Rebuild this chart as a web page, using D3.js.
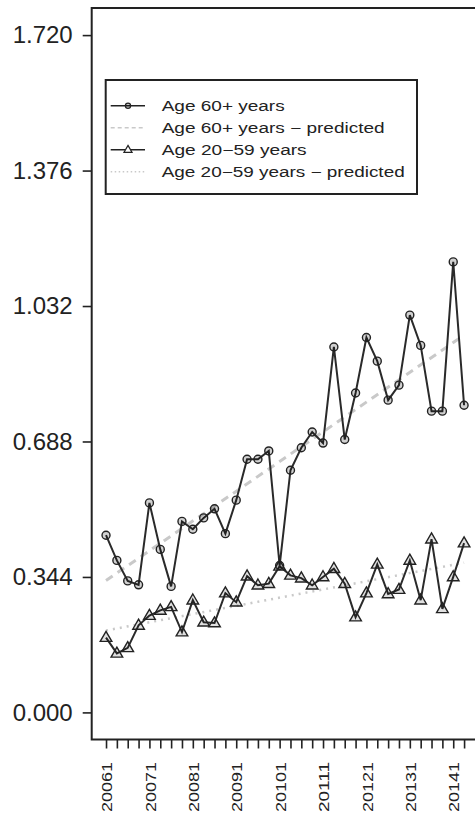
<!DOCTYPE html>
<html>
<head>
<meta charset="utf-8">
<script src="https://cdn.jsdelivr.net/npm/d3@7"></script>
<style>
  html, body { margin: 0; padding: 0; background: #fff; }
  svg { display: block; font-family: "Liberation Sans", Arial, sans-serif; }
</style>
</head>
<body>
<svg id="chart" width="475" height="815"></svg>
<script>
// ---- Data ----
const quarters = ["20061","20062","20063","20064","20071","20072","20073","20074",
  "20081","20082","20083","20084","20091","20092","20093","20094",
  "20101","20102","20103","20104","20111","20112","20113","20114",
  "20121","20122","20123","20124","20131","20132","20133","20134",
  "20141","20142"];
const age60 = [0.450,0.386,0.334,0.324,0.532,0.414,0.320,0.485,0.465,0.494,0.517,0.454,
  0.539,0.643,0.643,0.664,0.373,0.615,0.672,0.712,0.684,0.928,0.693,0.811,
  0.952,0.892,0.793,0.831,1.009,0.932,0.765,0.765,1.144,0.780];
const age2059 = [0.190,0.150,0.164,0.221,0.246,0.259,0.268,0.204,0.285,0.229,0.227,0.303,
  0.280,0.346,0.323,0.327,0.371,0.348,0.341,0.323,0.344,0.365,0.327,0.242,
  0.303,0.376,0.301,0.312,0.386,0.285,0.440,0.263,0.344,0.430];
const predQuarters = ["20061","20142"];
const pred60 = [0.335, 0.958];
const pred2059 = [0.208, 0.380];
const yTicks = [0, 0.344, 0.688, 1.032, 1.376, 1.720];
const legendLabels = ["Age 60+ years","Age 60+ years \u2212 predicted","Age 20\u221259 years","Age 20\u221259 years \u2212 predicted"];

// ---- Layout ----
const svg = d3.select("#chart");
const ink = "#222";
const n = quarters.length;
const xPad = (n - 1) * 0.04, yPad = 1.72 * 0.04;
const x = d3.scaleLinear().domain([-xPad, n - 1 + xPad]).range([91.7, 478.4]);
const y = d3.scaleLinear().domain([-yPad, 1.72 + yPad]).range([739.5, 8]);
const xi = q => x(quarters.indexOf(q));

// predicted lines
const predLine = d3.line().x(d => xi(d[0])).y(d => y(d[1]));
svg.append("path").datum(predQuarters.map((q, i) => [q, pred60[i]]))
  .attr("d", predLine).attr("fill", "none").attr("stroke", "#c9c9c9")
  .attr("stroke-width", 3).attr("stroke-dasharray", "8,6");
svg.append("path").datum(predQuarters.map((q, i) => [q, pred2059[i]]))
  .attr("d", predLine).attr("fill", "none").attr("stroke", "#c9c9c9")
  .attr("stroke-width", 2.5).attr("stroke-dasharray", "2,5");

// data lines
const line = d3.line().x((d, i) => x(i)).y(d => y(d));
svg.append("path").datum(age60).attr("d", line).attr("fill", "none")
  .attr("stroke", "#2a2a2a").attr("stroke-width", 2);
svg.append("path").datum(age2059).attr("d", line).attr("fill", "none")
  .attr("stroke", "#2a2a2a").attr("stroke-width", 2);

const circleSym = d3.symbol().type(d3.symbolCircle);
const triPath = s => `M0,${-s * 0.62}L${s * 0.58},${s * 0.38}L${-s * 0.58},${s * 0.38}Z`;

svg.append("g").selectAll("circle").data(age60).join("circle")
  .attr("cx", (d, i) => x(i)).attr("cy", d => y(d)).attr("r", 4)
  .attr("fill", "rgba(0,0,0,0.18)").attr("stroke", "#222").attr("stroke-width", 1.4);
svg.append("g").selectAll("path").data(age2059).join("path")
  .attr("transform", (d, i) => `translate(${x(i)},${y(d)})`)
  .attr("d", triPath(10))
  .attr("fill", "rgba(0,0,0,0.12)").attr("stroke", "#222").attr("stroke-width", 1.4);

// box
svg.append("rect").attr("x", x.range()[0]).attr("y", y.range()[1])
  .attr("width", x.range()[1] - x.range()[0]).attr("height", y.range()[0] - y.range()[1])
  .attr("fill", "none").attr("stroke", ink).attr("stroke-width", 2);

// y axis
const yAxis = svg.append("g").attr("transform", `translate(${x.range()[0]},0)`)
  .call(d3.axisLeft(y).tickValues(yTicks).tickFormat(d3.format(".3f")).tickSize(9).tickPadding(10));
yAxis.select(".domain").remove();
yAxis.selectAll("line").attr("stroke", ink).attr("stroke-width", 1.6);
yAxis.selectAll("text").attr("font-size", 24).attr("fill", ink)
  .attr("font-family", "'Liberation Sans', Arial, sans-serif");

// x axis
const xAxis = svg.append("g").attr("transform", `translate(0,${y.range()[0]})`)
  .call(d3.axisBottom(x).tickValues(d3.range(n))
    .tickFormat(i => quarters[i].endsWith("1") ? quarters[i] : "").tickSize(9));
xAxis.select(".domain").remove();
xAxis.selectAll("line").attr("stroke", ink).attr("stroke-width", 1.6);
xAxis.selectAll("text")
  .attr("transform", "rotate(-90)").attr("x", -22.5).attr("y", 0).attr("dy", "0.36em")
  .attr("text-anchor", "end").attr("font-size", 15.5).attr("fill", ink)
  .attr("font-family", "'Liberation Sans', Arial, sans-serif")
  .each(function () { if (this.textContent) d3.select(this).attr("textLength", 50).attr("lengthAdjust", "spacingAndGlyphs"); });

// legend
const lg = svg.append("g");
lg.append("rect").attr("x", 105.7).attr("y", 80).attr("width", 311.3).attr("height", 114)
  .attr("fill", "#fff").attr("stroke", ink).attr("stroke-width", 2);
const legendWidths = [123, 223, 145, 243];
legendLabels.forEach((lab, i) => {
  const cy = 105.7 + i * 22;
  const ln = lg.append("line").attr("x1", 110.7).attr("x2", 145).attr("y1", cy).attr("y2", cy);
  if (i === 0 || i === 2) {
    ln.attr("stroke", "#222").attr("stroke-width", 1.6);
    if (i === 0) lg.append("circle").attr("cx", 128).attr("cy", cy).attr("r", 2.6)
      .attr("fill", "rgba(0,0,0,0.2)").attr("stroke", "#222").attr("stroke-width", 1.2);
    else lg.append("path").attr("transform", `translate(128,${cy})`).attr("d", triPath(7))
      .attr("fill", "#fff").attr("stroke", "#222").attr("stroke-width", 1.2);
  } else if (i === 1) {
    ln.attr("stroke", "#c9c9c9").attr("stroke-width", 1.5).attr("stroke-dasharray", "4,3");
  } else {
    ln.attr("stroke", "#c9c9c9").attr("stroke-width", 1.5).attr("stroke-dasharray", "1.5,2.5");
  }
  lg.append("text").attr("x", 161.7).attr("y", cy).attr("dy", "0.36em")
    .attr("font-size", 14).attr("fill", ink)
    .attr("textLength", legendWidths[i]).attr("lengthAdjust", "spacingAndGlyphs")
    .text(lab);
});
</script>
</body>
</html>
